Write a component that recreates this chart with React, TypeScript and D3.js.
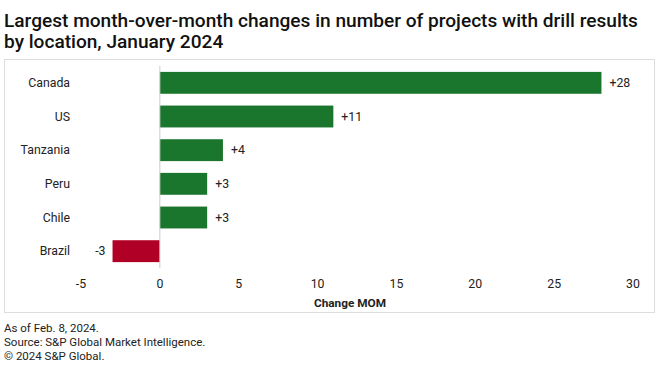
import React from "react";
import * as d3 from "d3";

const categories = ["Canada", "US", "Tanzania", "Peru", "Chile", "Brazil"];
const values = [28, 11, 4, 3, 3, -3];
const xTicks = [-5, 0, 5, 10, 15, 20, 25, 30];
const titleLines = [
  "Largest month-over-month changes in number of projects with drill results",
  "by location, January 2024",
];
const footerLines = ["As of Feb. 8, 2024.", "Source: S&P Global Market Intelligence.", "© 2024 S&P Global."];

export default function App() {
  const W = 660, H = 372;
  const x = d3.scaleLinear().domain([-5, 30]).range([81, 633]);
  const y = d3.scaleBand().domain(categories).range([66, 268]).paddingInner(0.35).paddingOuter(0.175);
  const font = "Roboto, 'Liberation Sans', sans-serif";
  const fmt = (v: number) => (v > 0 ? `+${v}` : `${v}`);
  return (
    <svg width={W} height={H} style={{ position: "absolute", left: 0, top: 0, background: "#fff" }} fontFamily={font}>
      {titleLines.map((t, i) => (
        <text key={i} x={4} y={27 + i * 21} fontSize={19.1} fill="#111" fontWeight={500}>{t}</text>
      ))}
      <rect x={4.5} y={59.5} width={650} height={253} fill="none" stroke="#ddd" />
      {categories.map((c, i) => {
        const v = values[i];
        const y0 = y(c)!;
        const bw = y.bandwidth();
        const x0 = x(Math.min(0, v));
        const x1 = x(Math.max(0, v));
        return (
          <g key={c}>
            <rect x={x0} y={y0} width={x1 - x0} height={bw} fill={v >= 0 ? "#1b762d" : "#b10026"} />
            <text x={70} y={y0 + bw / 2} dy="0.35em" textAnchor="end" fontSize={12.3} fill="#222">{c}</text>
            <text
              x={v >= 0 ? x1 + 8 : x0 - 7}
              y={y0 + bw / 2}
              dy="0.35em"
              textAnchor={v >= 0 ? "start" : "end"}
              fontSize={12.3}
              fill="#222"
            >{fmt(v)}</text>
          </g>
        );
      })}
      <line x1={x(0)} x2={x(0)} y1={66} y2={268} stroke="#ccc" strokeWidth={1} />
      {xTicks.map((t) => (
        <text key={t} x={x(t)} y={284} dy="0.35em" textAnchor="middle" fontSize={12.3} fill="#222">{t}</text>
      ))}
      <text x={350} y={303} dy="0.35em" textAnchor="middle" fontSize={11.8} fontWeight="bold" fill="#222">Change MOM</text>
      {footerLines.map((t, i) => (
        <text key={i} x={4} y={332 + i * 14} fontSize={11.5} fill="#222">{t}</text>
      ))}
    </svg>
  );
}
